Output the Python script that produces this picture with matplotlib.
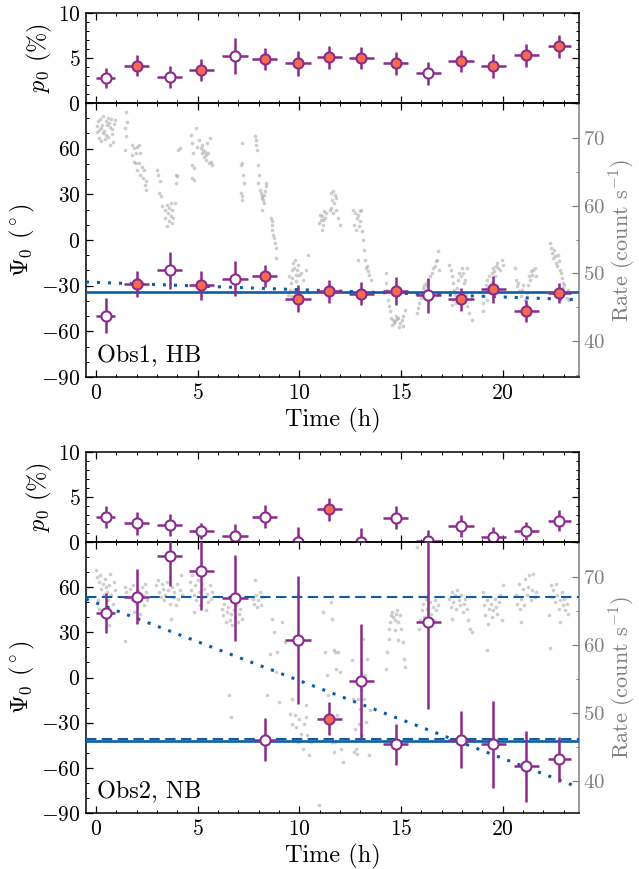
import matplotlib
matplotlib.use("Agg")
import matplotlib.pyplot as plt
from matplotlib.ticker import MultipleLocator
import numpy as np

# ---------------- data ----------------
t_bin = [0.46, 2.0, 3.61, 5.17, 6.83, 8.29, 9.93, 11.46, 13.05, 14.73, 16.34, 17.95, 19.54, 21.15, 22.79]
t_err = [0.45, 0.62, 0.62, 0.62, 0.62, 0.62, 0.62, 0.62, 0.62, 0.62, 0.62, 0.62, 0.62, 0.62, 0.55]

# Obs1, HB
p0_1 = [2.76, 4.15, 2.9, 3.7, 5.2, 4.9, 4.4, 5.07, 5.0, 4.4, 3.3, 4.67, 4.12, 5.3, 6.32]
p0err_1 = [1.1, 1.2, 1.25, 1.2, 2.0, 1.25, 1.35, 1.25, 1.25, 1.3, 1.27, 1.2, 1.3, 1.25, 1.27]
psi_1 = [-49.9, -28.7, -19.9, -29.8, -25.4, -23.9, -38.5, -33.7, -35.3, -33.5, -36.4, -39.0, -32.4, -46.6, -34.8]
psierr_1 = [11.5, 8.5, 12.0, 9.3, 11.5, 7.3, 8.8, 7.7, 7.4, 9.1, 11.6, 7.5, 8.8, 7.1, 6.3]
filled_1 = [0, 1, 0, 1, 0, 1, 1, 1, 1, 1, 0, 1, 1, 1, 1]
const_1 = -34.4
lin_1 = (-27.84, -0.48)      # intercept, slope

# Obs2, NB
p0_2 = [2.81, 2.07, 1.89, 1.22, 0.67, 2.81, 0.03, 3.63, 0.0, 2.7, 0.15, 1.78, 0.52, 1.26, 2.37]
p0err_2 = [1.2, 1.3, 1.2, 0.9, 1.3, 1.25, 1.6, 1.3, 1.55, 1.25, 1.2, 1.2, 1.2, 1.0, 1.2]
psi_2 = [43.0, 53.6, 81.0, 70.6, 52.9, -41.2, 25.2, -27.4, -2.4, -44.5, 36.8, -41.2, -44.5, -58.9, -54.4]
psierr_2 = [13.3, 18.3, 20.4, 25.9, 28.4, 14.1, 42.5, 11.1, 38.0, 13.3, 57.5, 19.1, 28.6, 23.5, 14.9]
filled_2 = [0, 0, 0, 0, 0, 0, 0, 1, 0, 0, 0, 0, 0, 0, 0]
const_2 = -42.5
dash_2 = [53.4, -40.9]
lin_2 = (49.56, -5.164)

# light curves (grey dots)
lc1_time = [0.02, 0.06, 0.10, 0.12, 0.16, 0.20, 0.22, 0.26, 0.30, 0.33, 0.36, 0.40, 0.43, 0.46, 0.50, 0.53, 0.56, 0.60, 0.63, 0.66, 0.70, 0.73, 0.76, 0.80, 0.84, 0.88, 0.92,
            1.48, 1.53, 1.44, 1.46, 1.41, 1.77, 1.85, 1.94, 2.02, 2.10, 1.85, 1.94, 2.18, 2.02, 2.18, 2.10, 2.26, 2.35, 2.43, 2.40, 2.46, 2.30, 1.74,
            3.00, 3.05, 3.12, 3.09, 3.17, 3.25, 3.41, 3.50, 3.58, 3.66, 3.74, 3.54, 3.66, 3.77, 3.58, 3.50, 3.71, 3.41, 3.87, 3.91, 3.94, 4.00, 4.04, 4.10,
            4.65, 4.69, 4.76, 4.73, 4.81, 4.73, 4.81, 4.89, 4.97, 5.05, 5.14, 5.22, 5.25, 5.30, 5.35, 5.38, 5.42, 5.47, 5.52, 5.55, 5.58, 5.63, 5.68, 5.19,
            7.11, 7.16, 7.19, 7.22, 7.11, 7.16, 7.19, 7.27,
            7.81, 7.85, 7.88, 7.93, 7.96, 8.01, 7.98, 8.04, 8.09, 8.14, 8.18, 8.26, 8.21, 8.31, 8.34, 8.37, 8.27, 8.18, 8.59, 8.64, 8.67, 8.70, 8.75, 8.80, 8.83, 8.87, 8.64,
            9.49, 9.57, 9.52, 9.46, 9.62, 9.69, 9.74, 9.78, 9.82, 9.90, 9.95, 9.98, 10.06, 10.15, 9.85, 9.65, 10.31, 10.44, 9.57, 9.74,
            10.97, 11.02, 11.05, 11.10, 11.13, 11.16, 11.18, 11.21, 11.26, 11.29, 11.49, 11.54, 11.57, 11.62, 11.66, 11.66, 11.69, 11.74, 11.79, 11.82, 11.90, 11.99,
            12.64, 12.72, 12.81, 12.89, 12.97, 13.05, 12.68, 12.77, 12.94, 13.00, 13.10, 13.13, 13.17, 13.22, 13.27, 13.33, 13.38, 13.43, 13.50, 12.89,
            14.25, 14.28, 14.32, 14.36, 14.41, 14.45, 14.50, 14.58, 14.65, 14.71, 14.78, 14.86, 14.94, 15.02, 15.11, 15.19, 15.07, 14.91, 14.75, 14.53,
            15.79, 15.84, 15.89, 15.96, 16.00, 16.06, 16.12, 16.17, 16.22, 16.29, 16.34, 16.42, 16.50, 16.58, 16.67, 16.72, 16.78, 16.83, 16.88, 16.39,
            17.37, 17.43, 17.48, 17.53, 17.60, 17.65, 17.70, 17.76, 17.81, 17.86, 17.93, 17.98, 18.03, 18.09, 18.14, 18.19, 18.26, 18.36, 18.47, 18.23, 17.48, 17.57,
            19.01, 19.05, 19.08, 19.13, 19.18, 19.24, 19.29, 19.34, 19.41, 19.46, 19.51, 19.57, 19.62, 19.67, 19.74, 19.79, 19.87, 19.95, 20.00, 19.21,
            20.61, 20.65, 20.72, 20.77, 20.82, 20.88, 20.93, 21.01, 21.10, 21.18, 21.26, 21.31, 21.34, 21.39, 21.44, 21.51, 21.59, 21.64, 21.21,
            22.30, 22.36, 22.41, 22.46, 22.53, 22.58, 22.62, 22.69, 22.74, 22.79, 22.85, 22.90, 22.95, 22.98, 23.03, 23.08, 23.14, 23.21, 23.28, 22.82]
lc1_rate = [71.8, 70.9, 72.5, 71.2, 70.1, 72.9, 71.5, 69.6, 72.0, 70.8, 73.3, 71.1, 69.9, 72.6, 70.4, 71.9, 73.0, 70.2, 72.3, 69.0, 71.6, 72.8, 70.6, 71.3, 69.5, 72.1, 72.7,
            73.94, 72.46, 71.48, 70.34, 68.18, 69.02, 68.52, 67.78, 68.77, 69.02, 66.55, 66.31, 67.78, 65.32, 64.58, 66.31, 65.81, 65.32, 63.6, 63.11, 62.27, 64.09, 67.54,
            65.32, 64.58, 63.6, 61.88, 61.38, 59.91, 59.41, 60.15, 59.66, 60.4, 59.41, 58.92, 58.43, 58.18, 57.69, 56.95, 57.44, 58.18, 60.4, 63.35, 64.58, 64.34, 68.28, 68.52,
            70.49, 69.26, 67.78, 66.06, 65.57, 64.09, 63.75, 71.48, 68.77, 69.75, 68.52, 67.78, 68.28, 67.29, 68.03, 66.8, 67.54, 69.26, 67.78, 66.31, 70.0, 66.55, 66.06, 69.02,
            66.06, 66.31, 69.26, 64.58, 61.88, 60.89, 61.38, 63.35,
            70.25, 69.75, 69.02, 68.28, 66.06, 64.58, 63.35, 62.37, 61.88, 61.38, 61.14, 61.63, 60.89, 62.12, 62.86, 63.35, 60.4, 59.41, 58.18, 57.69, 57.2, 55.72, 55.23, 54.49, 53.75, 52.27, 56.46,
            49.57, 48.58, 47.6, 46.86, 50.55, 51.54, 50.8, 52.03, 49.82, 50.55, 51.29, 49.82, 50.06, 49.08, 48.83, 49.33, 50.55, 52.77, 46.61, 47.6,
            57.44, 58.68, 57.94, 56.46, 58.43, 57.2, 57.94, 59.17, 58.18, 58.92, 59.41, 59.66, 61.88, 60.89, 62.12, 58.92, 60.4, 61.63, 59.41, 61.14, 58.18, 57.2,
            59.41, 58.92, 58.18, 58.68, 59.17, 59.41, 57.2, 56.46, 56.95, 57.69, 56.21, 54.98, 53.5, 52.03, 50.8, 51.04, 50.31, 49.82, 49.08, 52.03,
            50.06, 48.58, 47.6, 46.12, 45.14, 44.4, 43.41, 43.17, 42.67, 42.92, 43.27, 43.41, 42.67, 43.17, 43.66, 44.65, 42.28, 42.08, 43.66, 42.43,
            44.15, 44.9, 45.63, 46.37, 47.1, 47.84, 48.33, 47.6, 48.58, 48.09, 49.08, 49.57, 50.06, 50.8, 51.04, 51.78, 52.03, 53.26, 50.55, 46.86,
            51.29, 50.55, 49.57, 48.58, 47.6, 46.86, 45.63, 47.84, 49.08, 50.06, 49.57, 50.8, 50.06, 48.58, 49.08, 46.86, 45.14, 44.15, 43.17, 50.8, 45.38, 46.12,
            45.63, 44.4, 46.61, 47.6, 48.33, 49.08, 47.84, 49.57, 48.58, 50.06, 50.8, 50.31, 49.57, 51.04, 51.54, 50.8, 50.55, 52.03, 51.29, 46.12,
            50.8, 49.08, 48.09, 48.58, 47.35, 46.61, 47.6, 48.33, 46.12, 47.1, 48.33, 49.57, 49.08, 50.31, 49.82, 50.55, 50.8, 49.57, 45.38,
            54.49, 53.75, 53.01, 52.27, 53.5, 52.52, 51.54, 51.04, 52.77, 51.78, 50.06, 49.33, 48.58, 47.84, 48.33, 47.1, 46.37, 47.6, 46.12, 50.55]

lc2_time = [0.00, 0.06, 0.13, 0.21, 0.26, 0.33, 0.38, 0.43, 0.49, 0.54, 0.59, 0.65, 0.70, 0.75, 0.82, 0.87, 0.92, 0.16, 0.29, 0.46, 0.62, 0.79, 0.10,
            1.41, 1.48, 1.57, 1.64, 1.74, 1.81, 1.90, 1.97, 2.07, 2.13, 2.23, 2.30, 2.36, 2.43, 2.49, 1.85, 2.18, 1.41, 2.40,
            2.95, 3.02, 3.09, 3.17, 3.22, 3.28, 3.35, 3.41, 3.48, 3.55, 3.61, 3.66, 3.71, 3.78, 3.84, 3.91, 3.97, 4.04, 4.10, 4.17, 4.24,
            4.60, 4.66, 4.73, 4.79, 4.86, 4.92, 4.99, 5.06, 5.12, 5.19, 5.25, 5.32, 5.38, 5.45, 5.52, 5.58, 5.65, 5.71, 4.81,
            6.17, 6.24, 6.30, 6.37, 6.44, 6.50, 6.57, 6.63, 6.70, 6.76, 6.83, 6.90, 6.96, 7.03, 7.09, 7.16, 6.53, 6.62,
            7.72, 7.78, 7.85, 7.91, 7.98, 8.04, 8.11, 8.18, 7.82,
            8.42, 8.54, 8.64, 8.67, 8.75, 8.83, 8.91, 9.00, 9.16, 9.29,
            9.52, 9.62, 9.69, 9.78, 9.85, 9.92, 9.98, 10.06, 10.15, 10.23, 10.31, 10.39, 10.47, 10.56, 9.65, 10.31, 10.97, 11.16, 11.26, 11.33, 11.38, 11.46, 11.62, 11.71, 11.76,
            11.57, 11.62, 11.69, 11.79, 11.90, 11.98, 12.06, 12.15, 11.74, 11.85,
            12.56, 12.64, 12.72, 12.77, 12.84, 12.89, 12.93, 13.00, 13.05, 13.10, 13.16, 13.21, 13.26, 13.33, 13.43, 13.49, 12.67, 13.13,
            14.25, 14.31, 14.38, 14.45, 14.49, 14.54, 14.61, 14.68, 14.74, 14.81, 14.87, 14.94, 15.00, 15.07, 15.14, 15.20, 14.86, 14.69, 14.41,
            15.79, 15.86, 15.92, 16.01, 16.09, 16.15, 16.22, 16.28, 16.35, 16.42, 16.48, 16.55, 16.61, 16.68, 16.74, 16.83,
            17.37, 17.43, 17.50, 17.57, 17.63, 17.70, 17.76, 17.83, 17.89, 17.96, 18.03, 18.09, 18.16, 18.22, 18.30, 18.39, 18.47, 17.48,
            19.01, 19.08, 19.14, 19.21, 19.27, 19.34, 19.40, 19.47, 19.54, 19.60, 19.67, 19.73, 19.80, 19.86, 19.95, 20.03, 19.21,
            20.65, 20.72, 20.78, 20.85, 20.92, 20.98, 21.05, 21.11, 21.18, 21.24, 21.31, 21.38, 21.44, 21.51, 21.57, 21.64, 20.88,
            22.29, 22.36, 22.43, 22.49, 22.56, 22.62, 22.69, 22.75, 22.82, 22.89, 22.95, 23.02, 23.08, 23.15, 23.21, 22.82, 22.33]
lc2_rate = [70.94, 69.96, 69.23, 70.21, 68.25, 68.98, 67.27, 69.72, 68.49, 67.76, 66.53, 68.74, 70.45, 67.27, 66.04, 69.23, 68.0, 65.31, 64.58, 63.84, 62.86, 64.82, 66.53,
            68.49, 67.76, 67.02, 68.25, 66.53, 68.74, 67.51, 66.04, 68.0, 66.78, 68.49, 67.27, 65.8, 67.76, 66.53, 64.82, 64.58, 60.51, 68.98,
            68.74, 69.47, 67.76, 67.02, 68.98, 68.25, 66.53, 67.27, 69.23, 68.0, 66.04, 63.84, 68.49, 67.02, 67.76, 65.8, 68.98, 66.78, 68.0, 70.21, 67.27,
            69.23, 68.0, 70.21, 67.27, 68.74, 66.53, 69.47, 67.76, 65.8, 68.98, 67.02, 68.25, 65.07, 67.51, 66.29, 68.74, 66.78, 67.76, 64.82,
            65.31, 64.33, 66.04, 63.35, 64.82, 65.55, 63.6, 64.58, 62.86, 65.07, 64.09, 65.8, 63.35, 64.58, 65.31, 63.84, 52.58, 49.4,
            66.78, 66.04, 67.27, 65.55, 66.53, 67.76, 65.8, 67.02, 69.47,
            52.58, 58.7, 56.5, 63.84, 61.88, 56.01, 58.95, 51.6, 63.35, 60.42,
            49.89, 48.42, 46.22, 49.65, 47.93, 45.73, 49.16, 46.95, 44.75, 48.42, 49.4, 46.71, 43.77, 45.73, 52.09, 51.12, 36.43, 64.82, 58.95, 55.52, 52.58, 48.42, 45.73, 44.26, 58.95,
            66.29, 63.84, 59.19, 56.5, 58.95, 56.01, 44.75, 42.79, 45.73, 49.65,
            57.72, 52.09, 47.69, 44.75, 44.02, 52.09, 48.42, 50.63, 53.32, 46.71, 52.09, 55.52, 48.67, 57.97, 43.77, 50.38, 44.26, 60.9,
            56.5, 58.95, 60.9, 63.35, 64.33, 64.82, 64.09, 63.6, 64.58, 65.07, 63.35, 64.33, 62.37, 60.42, 57.97, 56.74, 60.66, 62.13, 62.37,
            74.37, 62.37, 63.6, 65.07, 66.04, 64.09, 66.78, 65.31, 63.11, 66.29, 64.58, 65.55, 63.6, 66.53, 65.07, 65.8,
            66.78, 65.55, 67.76, 66.29, 67.27, 65.31, 68.0, 66.53, 65.8, 67.27, 64.82, 66.04, 66.78, 65.31, 63.6, 62.37, 61.88, 63.84,
            67.76, 65.8, 64.33, 66.53, 63.11, 65.31, 66.04, 64.09, 65.07, 66.78, 65.55, 64.58, 66.29, 67.27, 63.6, 68.74, 59.19,
            67.27, 66.04, 68.98, 65.31, 66.78, 68.25, 65.8, 69.72, 67.27, 68.49, 70.21, 66.53, 68.0, 70.45, 67.02, 67.76, 63.35,
            64.33, 68.74, 67.02, 68.0, 66.29, 68.98, 67.27, 65.31, 66.53, 67.76, 65.8, 66.78, 65.07, 66.04, 64.58, 63.35, 59.53]

labels = ["Obs1, HB", "Obs2, NB"]

# ---------------- style ----------------
plt.rcParams.update({
    "font.family": "serif",
    "font.serif": ["cmr10"],
    "mathtext.fontset": "cm",
    "axes.formatter.use_mathtext": True,
    "axes.unicode_minus": True,
    "xtick.direction": "in",
    "ytick.direction": "in",
    "xtick.major.size": 5, "xtick.minor.size": 2.5,
    "ytick.major.size": 5, "ytick.minor.size": 2.5,
    "xtick.major.width": 0.9, "ytick.major.width": 0.9,
    "xtick.minor.width": 0.7, "ytick.minor.width": 0.7,
    "xtick.major.pad": 4.5, "ytick.major.pad": 4,
    "axes.linewidth": 1.1,
    "xtick.labelsize": 15.5, "ytick.labelsize": 15.5,
    "axes.labelsize": 17.5,
    "axes.labelpad": 3,
})

PURPLE = "#8a2c8c"
ORANGE = "#f46b4f"
BLUE = "#0C5DA5"
GREY = "#808080"
DOT = "#a6a6a6"
XLIM = (-0.5, 23.75)

fig = plt.figure(figsize=(6.39, 8.69), dpi=100)
L, W = 86 / 639, 493 / 639
H = 869.0


def rect(top, bottom):
    return [L, 1 - bottom / H, W, (bottom - top) / H]


def points(ax, y, yerr, filled):
    ax.errorbar(t_bin, y, xerr=t_err, yerr=yerr, fmt="none", ecolor=PURPLE,
                elinewidth=1.8, capsize=0, zorder=5)
    for ti, yi, f in zip(t_bin, y, filled):
        ax.plot([ti], [yi], "o", ms=7.3, mew=1.5, mec=PURPLE,
                mfc=ORANGE if f else "white", zorder=6)


def panel(tops, p0, p0err, psi, psierr, filled, lct, lcr, rate_lim, label, lines):
    ax_p = fig.add_axes(rect(tops[0], tops[1]))
    ax_s = fig.add_axes(rect(tops[1], tops[2]))
    ax_r = ax_s.twinx()
    ax_s.set_zorder(2)
    ax_r.set_zorder(1)
    ax_s.patch.set_visible(False)

    # p0 panel
    points(ax_p, p0, p0err, filled)
    ax_p.set_xlim(*XLIM)
    ax_p.set_ylim(0, 10)
    ax_p.yaxis.set_major_locator(MultipleLocator(5))
    ax_p.yaxis.set_minor_locator(MultipleLocator(1))
    ax_p.xaxis.set_major_locator(MultipleLocator(5))
    ax_p.xaxis.set_minor_locator(MultipleLocator(1))
    ax_p.tick_params(which="both", top=True, right=True, bottom=True, left=True,
                     labelbottom=False)
    ax_p.set_ylabel(r"$p_0$ (%)")

    # psi panel
    points(ax_s, psi, psierr, filled)
    xx = np.array(XLIM)
    for kind, val in lines:
        if kind == "const":
            ax_s.axhline(val, color=BLUE, lw=1.9, zorder=3)
        elif kind == "dash":
            ax_s.axhline(val, color=BLUE, lw=1.5, ls=(0, (5, 2.6)), zorder=3)
        elif kind == "lin":
            ax_s.plot(xx, val[0] + val[1] * xx, color=BLUE, lw=2.2,
                      ls=(0, (1, 2.6)), zorder=3)
    ax_s.set_xlim(*XLIM)
    ax_s.set_ylim(-90, 90)
    ax_s.set_yticks([-90, -60, -30, 0, 30, 60])
    ax_s.yaxis.set_minor_locator(MultipleLocator(10))
    ax_s.xaxis.set_major_locator(MultipleLocator(5))
    ax_s.xaxis.set_minor_locator(MultipleLocator(1))
    ax_s.tick_params(which="both", top=True, bottom=True, left=True, right=False)
    ax_s.spines["right"].set_visible(False)
    ax_s.set_ylabel(r"$\Psi_0$ ($^\circ$)")
    ax_s.set_xlabel("Time (h)")
    ax_s.text(0.022, 0.055, label, transform=ax_s.transAxes, fontsize=17.5,
              va="baseline", ha="left", zorder=7)

    # light curve on the right axis
    ax_r.scatter(lct, lcr, s=7, color=DOT, alpha=0.55, lw=0, zorder=1)
    ax_r.set_ylim(*rate_lim)
    ax_r.yaxis.set_major_locator(MultipleLocator(10))
    ax_r.yaxis.set_minor_locator(MultipleLocator(5))
    for s in ["left", "top", "bottom"]:
        ax_r.spines[s].set_visible(False)
    ax_r.spines["right"].set_color(GREY)
    ax_r.tick_params(which="both", axis="y", colors=GREY, labelcolor=GREY)
    ax_r.tick_params(axis="y", labelsize=15, pad=3)
    ax_r.set_ylabel(r"Rate (count s$^{-1}$)", color=GREY, fontsize=16, labelpad=2)


panel((13, 103, 377), p0_1, p0err_1, psi_1, psierr_1, filled_1,
      lc1_time, lc1_rate, (34.7, 75.2), labels[0],
      [("lin", lin_1), ("const", const_1)])
panel((452, 542, 813), p0_2, p0err_2, psi_2, psierr_2, filled_2,
      lc2_time, lc2_rate, (35.3, 75.1), labels[1],
      [("lin", lin_2), ("dash", dash_2[0]), ("dash", dash_2[1]), ("const", const_2)])

fig.savefig("out.png", dpi=100)
